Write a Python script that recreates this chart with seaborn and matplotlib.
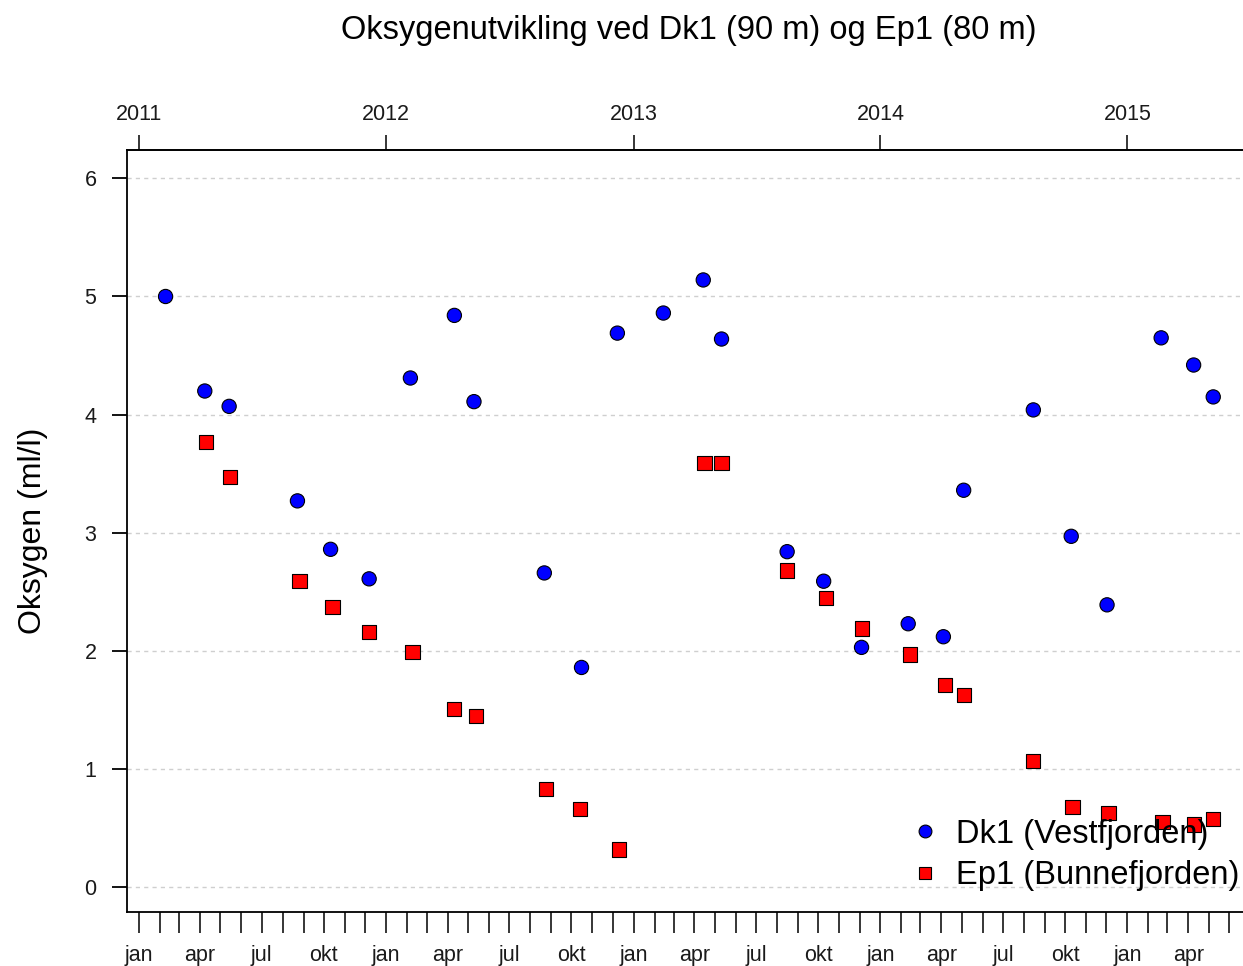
import pandas as pd
import seaborn as sns
import matplotlib
matplotlib.use("Agg")
import matplotlib.pyplot as plt
import matplotlib.dates as mdates
from matplotlib.ticker import FuncFormatter


# =========================
# Data
# =========================

dk1_dates = [
    "2011-02-09", "2011-04-08", "2011-05-14", "2011-08-23", "2011-10-11", "2011-12-07",
    "2012-02-06", "2012-04-11", "2012-05-10", "2012-08-22", "2012-10-16", "2012-12-08",
    "2013-02-14", "2013-04-14", "2013-05-11", "2013-08-16", "2013-10-09", "2013-12-04",
    "2014-02-11", "2014-04-04", "2014-05-04", "2014-08-15", "2014-10-10", "2014-12-02",
    "2015-02-20", "2015-04-09", "2015-05-08",
]
dk1_oxygen = [
    5.00, 4.20, 4.07, 3.27, 2.86, 2.61,
    4.31, 4.84, 4.11, 2.66, 1.86, 4.69,
    4.86, 5.14, 4.64, 2.84, 2.59, 2.03,
    2.23, 2.12, 3.36, 4.04, 2.97, 2.39,
    4.65, 4.42, 4.15,
]

ep1_dates = [
    "2011-04-10", "2011-05-15", "2011-08-26", "2011-10-14", "2011-12-07",
    "2012-02-09", "2012-04-11", "2012-05-13", "2012-08-25", "2012-10-14", "2012-12-10",
    "2013-04-16", "2013-05-11", "2013-08-16", "2013-10-12", "2013-12-05",
    "2014-02-14", "2014-04-06", "2014-05-04", "2014-08-15", "2014-10-12", "2014-12-04",
    "2015-02-22", "2015-04-09", "2015-05-08",
]
ep1_oxygen = [
    3.77, 3.47, 2.59, 2.37, 2.16,
    1.99, 1.51, 1.45, 0.83, 0.66, 0.32,
    3.59, 3.59, 2.68, 2.45, 2.19,
    1.97, 1.71, 1.63, 1.07, 0.68, 0.63,
    0.55, 0.53, 0.58,
]

stations = ["Dk1 (Vestfjorden)", "Ep1 (Bunnefjorden)"]
station_colors = ["#0000FF", "#FF0000"]
station_markers = ["o", "s"]

year_ticks = [2011, 2012, 2013, 2014, 2015]
month_labels = {1: "jan", 4: "apr", 7: "jul", 10: "okt"}
y_ticks = [0, 1, 2, 3, 4, 5, 6]

df = pd.concat([
    pd.DataFrame({"Dato": pd.to_datetime(dk1_dates), "Oksygen": dk1_oxygen,
                  "Stasjon": stations[0]}),
    pd.DataFrame({"Dato": pd.to_datetime(ep1_dates), "Oksygen": ep1_oxygen,
                  "Stasjon": stations[1]}),
], ignore_index=True)


# =========================
# Style
# =========================

sns.set_theme(style="white")
plt.rcParams["font.family"] = ["Liberation Sans", "DejaVu Sans"]

fig = plt.figure(figsize=(12.43, 9.66), dpi=100)
ax = fig.add_axes([127 / 1243, 54 / 966, 1116 / 1243, 762 / 966])

sns.scatterplot(
    data=df,
    x="Dato",
    y="Oksygen",
    hue="Stasjon",
    style="Stasjon",
    palette=dict(zip(stations, station_colors)),
    markers=dict(zip(stations, station_markers)),
    s=105,
    edgecolor="black",
    linewidth=0.8,
    ax=ax,
    zorder=3,
)

ax.set_xlim(pd.Timestamp("2010-12-14"), pd.Timestamp("2015-06-21"))
ax.set_ylim(-0.21, 6.24)

# y axis
ax.set_yticks(y_ticks)
ax.yaxis.grid(True, color="#cfcfcf", linestyle=(0, (3, 3)), linewidth=1)
ax.set_axisbelow(True)
ax.tick_params(axis="y", left=True, length=11, width=1.3, pad=11,
               labelsize=15.5, colors="black", labelcolor="#1a1a1a")
ax.set_ylabel("Oksygen (ml/l)", fontsize=23, labelpad=26, color="black")

# bottom month axis
ax.xaxis.set_major_locator(mdates.MonthLocator(bymonthday=1))
ax.xaxis.set_major_formatter(FuncFormatter(
    lambda v, pos: month_labels.get(mdates.num2date(v).month, "")))
ax.tick_params(axis="x", bottom=True, length=15, width=1.3, pad=9,
               labelsize=15.5, labelcolor="#1a1a1a")
ax.set_xlabel("")

# top year axis
top = ax.secondary_xaxis("top")
top.set_xticks([mdates.date2num(pd.Timestamp(f"{y}-01-01")) for y in year_ticks])
top.set_xticklabels([str(y) for y in year_ticks])
top.tick_params(length=11, width=1.3, pad=7, labelsize=15.5, labelcolor="#1a1a1a")
top.spines["top"].set_linewidth(1.3)

for side in ["left", "bottom", "top"]:
    ax.spines[side].set_visible(True)
    ax.spines[side].set_color("black")
    ax.spines[side].set_linewidth(1.3)
ax.spines["right"].set_visible(False)

fig.text(689 / 1243, 1 - 30 / 966, "Oksygenutvikling ved Dk1 (90 m) og Ep1 (80 m)",
         ha="center", va="center", fontsize=23.5, color="black")

# legend
handles, labels = ax.get_legend_handles_labels()
leg = ax.legend(handles=handles, labels=labels, loc="center left",
                bbox_to_anchor=(896 / 1243, 1 - 855 / 966), bbox_transform=fig.transFigure,
                frameon=False, fontsize=23.5, handlelength=1.75, handletextpad=0.1,
                labelspacing=0.33, borderpad=0, borderaxespad=0, markerscale=0.9)
for t in leg.get_texts():
    t.set_color("black")

fig.savefig("out.png", dpi=100)
